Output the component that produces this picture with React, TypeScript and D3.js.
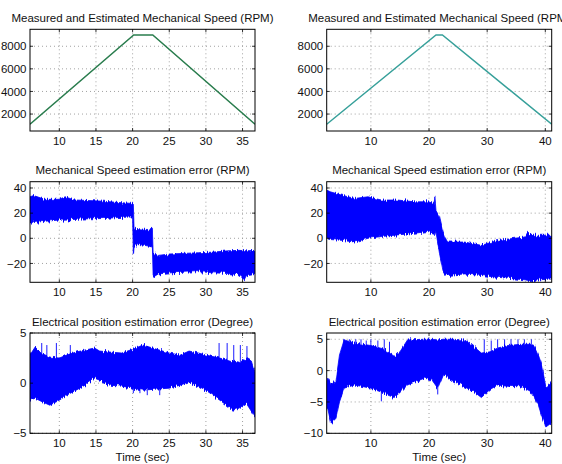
import React from 'react';
import * as d3 from 'd3';

// ---------- DATA ----------
// Row 1: mechanical speed (RPM)
const speedTimeLeft = [6, 20.15, 22.75, 36.7];
const speedLeft = [1100, 9000, 9000, 1100];
const speedTimeRight = [2.4, 21.2, 22.3, 41.1];
const speedRight = [1100, 9000, 9000, 1100];

// Row 2: speed estimation error envelope (RPM)
const errTimeLeft = [6, 6.5, 8, 10, 10.8, 12, 14, 16, 18, 20, 20.1, 20.2, 21, 22, 22.7, 22.8, 23.5, 25, 27, 29, 31, 33, 34.5, 35.2, 35.5, 36.7];
const errUpperLeft = [33, 34, 31, 31, 33, 30.5, 30, 29.5, 28.5, 27.7, 27, 8, 7.5, 7, 8, -12, -13.6, -12.5, -12, -11.5, -11, -10, -9.6, -9.8, -10, -9.6];
const errLowerLeft = [10.5, 12.5, 13.5, 14.5, 14.4, 15, 15.5, 15.7, 16.5, 17, -13, -5.6, -5, -6, -7, -31, -28.3, -27.5, -27, -26.5, -27.5, -28, -29, -32.6, -29, -28];

const errTimeRight = [2.4, 3, 4.9, 7.2, 9.5, 11.8, 14.6, 17.5, 19.8, 20.9, 21.0, 21.2, 21.8, 22.4, 22.7, 23.2, 26.1, 29, 31.8, 34.7, 36.5, 37, 37.6, 41.1];
const errUpperRight = [38.4, 37, 34.4, 31.7, 33, 30.4, 30.4, 29, 29, 27.7, 33, 22, 17, 5, 1, -3, -3, -5.6, -1.7, 0, 1, 5, 2.4, 2.4];
const errLowerRight = [-0.3, -1, -1.6, -3, 0, 1.4, 2.7, 4, 5.4, 4, 2, 5, -12, -25.6, -28, -29.6, -28.3, -29.6, -31, -32.3, -33, -33.5, -33.6, -32.3];

// Row 3: electrical position estimation error envelope (degree)
const posTimeLeft = [6.0, 6.7, 7.5, 8.7, 10.0, 11.0, 12.3, 13.5, 14.8, 15.5, 16.9, 18.5, 20.1, 21.4, 23.2, 25.0, 26.5, 27.7, 29.0, 30.0, 31.9, 33.7, 34.5, 35.5, 36.2, 36.7];
const posUpperLeft = [2.8, 3.6, 3.0, 2.6, 2.5, 2.8, 3.1, 3.3, 3.5, 3.2, 3.1, 3.0, 3.4, 3.8, 3.4, 3.0, 2.8, 3.2, 3.0, 2.8, 2.5, 2.1, 2.0, 2.5, 2.2, 1.0];
const posLowerLeft = [-1.7, -1.5, -1.8, -2.2, -1.7, -1.2, -0.7, -0.2, 0.5, 0.3, -0.2, -0.3, -0.5, -0.7, -0.6, -0.5, -0.2, 0.15, -0.3, -0.7, -1.7, -2.7, -2.5, -2.0, -2.8, -3.4];
const posSpikeTimeLeft = [7.6, 8.3, 9.6, 11.5, 20.1, 21.0, 22.0, 23.7, 31.8, 32.9, 33.8, 34.7, 35.6];
const posSpikeLeft = [4.0, 3.8, 4.0, 3.8, -1.0, -1.0, -1.2, -1.2, 4.0, 4.0, 3.8, 3.8, 3.7];

const posTimeRight = [2.4, 2.6, 3.1, 3.6, 4.0, 4.6, 5.4, 7.2, 10.0, 12.0, 12.9, 14.0, 15.0, 16.3, 19.2, 20.5, 21.5, 22.5, 23.8, 26.1, 27.5, 29.0, 30.5, 31.8, 33.5, 35.8, 37.5, 38.1, 38.8, 39.3, 40.1, 41.1];
const posUpperRight = [-1.5, -1.2, -2, -1.8, -1.5, 2.5, 4.9, 4.4, 4.0, 3.5, 3.0, 2.3, 3.0, 4.9, 5.0, 5.0, 4.9, 5.0, 5.0, 4.9, 4.0, 2.8, 3.0, 3.6, 4.0, 4.2, 4.2, 4.0, 2.5, 1.2, -2.6, -2.0];
const posLowerRight = [-6, -6.3, -8.4, -8.0, -7.6, -5.0, -2.8, -2.3, -2.8, -3.5, -3.9, -4.3, -3.5, -2.3, -1.2, -1.5, -2.8, -0.5, -1.5, -2.6, -3.2, -4.3, -3.0, -2.3, -2.5, -2.6, -3.5, -4.3, -5.5, -7.0, -9.0, -8.3];
const posSpikeTimeRight = [5.4, 6.3, 7.4, 8.3, 9.2, 10.0, 11.2, 12.3, 13.2, 11.8, 21.5, 29.5, 30.7, 31.8, 33.0, 34.1, 35.3, 36.4, 37.6];
const posSpikeRight = [5, 5, 5, 5, 4.8, 5, 4.8, 5, 4.6, -4.9, -3.8, 5, 4.8, 5, 5, 5, 5, 5, 5];

// Axis ticks and titles
const xTicksLeft = [10, 15, 20, 25, 30, 35];
const xTicksRight = [10, 20, 30, 40];
const yTicksSpeed = [2000, 4000, 6000, 8000];
const yTicksErr = [-20, 0, 20, 40];
const yTicksPosLeft = [-5, 0, 5];
const yTicksPosRight = [-10, -5, 0, 5];
const titleSpeed = 'Measured and Estimated Mechanical Speed (RPM)';
const titleErr = 'Mechanical Speed estimation error (RPM)';
const titlePos = 'Electrical position estimation error (Degree)';
const xLabel = 'Time (sec)';

// ---------- LAYOUT ----------
const FONT = "'Liberation Sans', Arial, Helvetica, sans-serif";
const FS = 11.5;
const COLS = [
  { x0: 30, x1: 255, domain: [6, 36.7], ticks: xTicksLeft },
  { x0: 326.7, x1: 551.7, domain: [2.4, 41.1], ticks: xTicksRight },
];
const ROWS = [
  { y0: 29.3, y1: 131 },
  { y0: 181.7, y1: 282.3 },
  { y0: 333, y1: 433.3 },
];

const fmt = (v: number) => (v < 0 ? '\u2212' + Math.abs(v) : String(v));

type Sc = d3.ScaleLinear<number, number>;
type PanelProps = {
  col: number;
  row: number;
  yDomain: [number, number];
  yTicks: number[];
  title: string;
  showXLabel?: boolean;
  render: (x: Sc, y: Sc) => React.ReactNode;
  id: string;
};

function Panel({ col, row, yDomain, yTicks, title, showXLabel, render, id }: PanelProps) {
  const c = COLS[col];
  const r = ROWS[row];
  const x = d3.scaleLinear().domain(c.domain).range([c.x0, c.x1]);
  const y = d3.scaleLinear().domain(yDomain).range([r.y1, r.y0]);
  const tl = 3;
  return (
    <g>
      <defs>
        <clipPath id={id}>
          <rect x={c.x0} y={r.y0} width={c.x1 - c.x0} height={r.y1 - r.y0} />
        </clipPath>
      </defs>
      {c.ticks.map((t) => (
        <line key={'gx' + t} x1={x(t)} x2={x(t)} y1={r.y0} y2={r.y1} stroke="#8a8a8a" strokeWidth={0.8} strokeDasharray="1,3" />
      ))}
      {yTicks.map((t) => (
        <line key={'gy' + t} x1={c.x0} x2={c.x1} y1={y(t)} y2={y(t)} stroke="#8a8a8a" strokeWidth={0.8} strokeDasharray="1,3" />
      ))}
      <g clipPath={`url(#${id})`}>{render(x, y)}</g>
      <rect x={c.x0} y={r.y0} width={c.x1 - c.x0} height={r.y1 - r.y0} fill="none" stroke="#000" strokeWidth={1} />
      {c.ticks.map((t) => (
        <g key={'tx' + t}>
          <line x1={x(t)} x2={x(t)} y1={r.y1} y2={r.y1 - tl} stroke="#000" strokeWidth={0.8} />
          <line x1={x(t)} x2={x(t)} y1={r.y0} y2={r.y0 + tl} stroke="#000" strokeWidth={0.8} />
          <text x={x(t)} y={r.y1 + 13.5} textAnchor="middle" fontSize={FS} fontFamily={FONT} fill="#111">
            {fmt(t)}
          </text>
        </g>
      ))}
      {yTicks.map((t) => (
        <g key={'ty' + t}>
          <line x1={c.x0} x2={c.x0 + tl} y1={y(t)} y2={y(t)} stroke="#000" strokeWidth={0.8} />
          <line x1={c.x1} x2={c.x1 - tl} y1={y(t)} y2={y(t)} stroke="#000" strokeWidth={0.8} />
          <text x={c.x0 - 3.5} y={y(t)} dy="0.36em" textAnchor="end" fontSize={FS} fontFamily={FONT} fill="#111">
            {fmt(t)}
          </text>
        </g>
      ))}
      <text x={(c.x0 + c.x1) / 2} y={r.y0 - 7.5} textAnchor="middle" fontSize={FS} fontFamily={FONT} fill="#111">
        {title}
      </text>
      {showXLabel && (
        <text x={(c.x0 + c.x1) / 2} y={r.y1 + 28} textAnchor="middle" fontSize={FS} fontFamily={FONT} fill="#111">
          {xLabel}
        </text>
      )}
    </g>
  );
}

function speedLine(times: number[], vals: number[], color: string) {
  return (x: Sc, y: Sc) => {
    const line = d3
      .line<number>()
      .x((_, i) => x(times[i]))
      .y((v) => y(v));
    return <path d={line(vals) || ''} fill="none" stroke={color} strokeWidth={1.5} />;
  };
}

function band(times: number[], upper: number[], lower: number[], spikeT?: number[], spikeV?: number[]) {
  return (x: Sc, y: Sc) => {
    const area = d3
      .area<number>()
      .x((_, i) => x(times[i]))
      .y0((_, i) => y(lower[i]))
      .y1((v) => y(v));
    return (
      <g>
        <path d={area(upper) || ''} fill="#0000ff" stroke="#0000ff" strokeWidth={0.8} filter="url(#jitter)" />
        {spikeT &&
          spikeV &&
          spikeT.map((t, i) => (
            <line key={i} x1={x(t)} x2={x(t)} y1={y(0)} y2={y(spikeV[i])} stroke="#0000ff" strokeWidth={0.9} />
          ))}
      </g>
    );
  };
}

export default function App() {
  return (
    <svg width={562} height={464} style={{ position: 'absolute', left: 0, top: 0, background: '#fff' }}>
      <defs>
        <filter id="jitter" x="-2%" y="-15%" width="104%" height="130%" colorInterpolationFilters="sRGB">
          <feTurbulence type="fractalNoise" baseFrequency="0.9 0.02" numOctaves={2} seed={3} result="noise" />
          <feColorMatrix in="noise" type="matrix"
            values="0 0 0 0 0.5  0 1 0 0 0  0 0 0 0 0  0 0 0 0 1" result="map" />
          <feDisplacementMap in="SourceGraphic" in2="map" scale={7} xChannelSelector="R" yChannelSelector="G" />
        </filter>
      </defs>
      <rect width={562} height={464} fill="#fff" />
      <Panel id="c0" col={0} row={0} yDomain={[500, 9500]} yTicks={yTicksSpeed} title={titleSpeed}
        render={speedLine(speedTimeLeft, speedLeft, '#2a7d4e')} />
      <Panel id="c1" col={1} row={0} yDomain={[500, 9500]} yTicks={yTicksSpeed} title={titleSpeed}
        render={speedLine(speedTimeRight, speedRight, '#37a09a')} />
      <Panel id="c2" col={0} row={1} yDomain={[-35, 45]} yTicks={yTicksErr} title={titleErr}
        render={band(errTimeLeft, errUpperLeft, errLowerLeft)} />
      <Panel id="c3" col={1} row={1} yDomain={[-35, 45]} yTicks={yTicksErr} title={titleErr}
        render={band(errTimeRight, errUpperRight, errLowerRight)} />
      <Panel id="c4" col={0} row={2} yDomain={[-5, 5]} yTicks={yTicksPosLeft} title={titlePos} showXLabel
        render={band(posTimeLeft, posUpperLeft, posLowerLeft, posSpikeTimeLeft, posSpikeLeft)} />
      <Panel id="c5" col={1} row={2} yDomain={[-10, 6]} yTicks={yTicksPosRight} title={titlePos} showXLabel
        render={band(posTimeRight, posUpperRight, posLowerRight, posSpikeTimeRight, posSpikeRight)} />
    </svg>
  );
}
